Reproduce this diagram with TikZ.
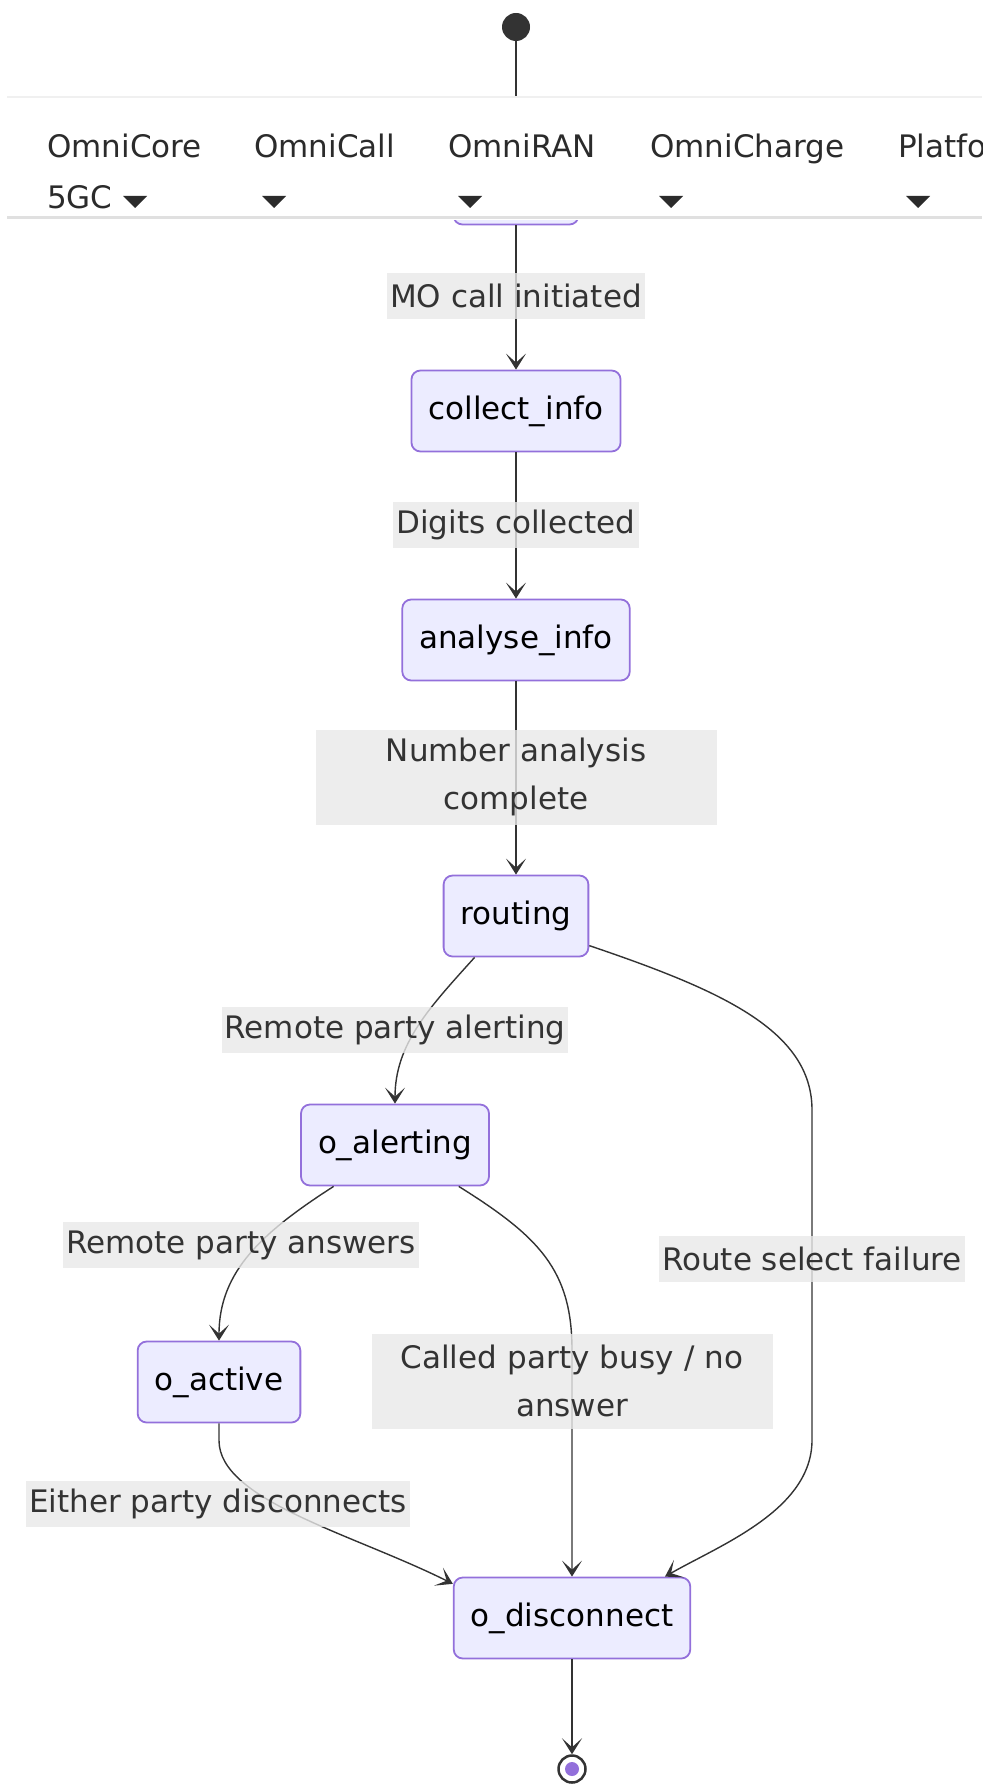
\documentclass[tikz,border=0pt]{standalone}
\usepackage{fontspec}
\setmainfont{DejaVu Sans}
\usetikzlibrary{arrows.meta}
\definecolor{statefill}{HTML}{ECECFF}
\definecolor{stateline}{HTML}{9370DB}
\definecolor{edgeline}{HTML}{333333}
\definecolor{labelfill}{HTML}{E8E8E8}
\definecolor{navtext}{HTML}{2B2B2B}
\tikzset{
  statebox/.style={draw=stateline, fill=statefill, line width=1.8pt, rounded corners=9pt,
    minimum height=81pt, inner xsep=17pt, text=black, font=\fontsize{31}{37}\selectfont},
  trans/.style={draw=edgeline, line width=1.4pt, ->},
  tlabel/.style={fill=labelfill, fill opacity=0.8, text opacity=1, text=edgeline,
    inner xsep=3pt, inner ysep=0pt, minimum height=46pt, font=\fontsize{31}{48}\selectfont},
  tlabeltwo/.style={tlabel, text width=395pt, align=center, minimum height=95pt},
  navitem/.style={anchor=base west, inner sep=0pt, text=navtext, font=\fontsize{31}{37}\selectfont},
}
\begin{document}
\begin{tikzpicture}[x=1pt, y=-1pt, >={Stealth[length=16pt,width=20pt,inset=9pt]}]
\useasboundingbox (0,0) rectangle (987,1784);
\clip (0,0) rectangle (987,1784);
% states
\node[circle, fill=edgeline, minimum size=28pt, inner sep=0pt] (start) at (516,27) {};
\node[statebox, minimum width=125pt] (idle) at (516,184) {};
\foreach \n/\y/\t in {collect/411/collect\_info, analyse/640/analyse\_info, routing/916/routing}
  \node[statebox] (\n) at (516,\y) {\t};
\node[statebox] (alerting) at (395,1145) {o\_alerting};
\node[statebox] (active) at (219,1382) {o\_active};
\node[statebox] (disconnect) at (572,1618) {o\_disconnect};
\node[circle, draw=edgeline, line width=2.5pt, fill=white, minimum size=27pt, inner sep=0pt] (end) at (572,1769) {};
\node[circle, fill=stateline, minimum size=14pt, inner sep=0pt] (endin) at (end) {};
% transitions
\draw[trans] (start) -- (idle);
\draw[trans] (idle) -- (collect);
\draw[trans] (collect) -- (analyse);
\draw[trans] (analyse) -- (routing);
\draw[trans] (routing.-135) .. controls +(-45,50) and +(0,-60) .. (alerting.north);
\draw[trans] (routing.-22) .. controls (720,990) and (812,1030) .. (812,1110)
  -- (812,1440) .. controls (812,1510) and (720,1545) .. (disconnect.24);
\draw[trans] (alerting.-146) .. controls +(-70,45) and +(0,-70) .. (active.north);
\draw[trans] (alerting.-33) .. controls +(80,50) and +(0,-80) .. (572,1350) -- (disconnect.north);
\draw[trans] (active.south) -- +(0,17) .. controls +(0,60) and +(-100,-50) .. (disconnect.164);
\draw[trans] (disconnect) -- (end);
% labels
\node[tlabel] (lmo) at (516,296) {MO call initiated};
\node[tlabel] (ldigits) at (516,525) {Digits collected};
\node[tlabeltwo] (lnumber) at (516,777) {Number analysis\\complete};
\node[tlabel] (lalerting) at (395,1030) {Remote party alerting};
\node[tlabel] (lanswers) at (241,1245) {Remote party answers};
\node[tlabel] (lfailure) at (812,1259) {Route select failure};
\node[tlabeltwo] (lbusy) at (572,1381) {Called party busy / no\\answer};
\node[tlabel] (ldisc) at (218,1504) {Either party disconnects};
% header bar
\begin{scope}
  \clip (7,96) rectangle (982,220);
  \fill[white] (7,96) rectangle (982,220);
  \draw[black!6, line width=1.5pt] (7,97) -- (982,97);
  \draw[black!12, line width=3pt] (7,218) -- (982,218);
  \foreach \x/\t/\n in {47/OmniCore/core, 254/OmniCall/call, 448/OmniRAN/ran, 650/OmniCharge/charge, 898/Platform/platform}
    \node[navitem] (\n) at (\x,158) {\t};
  \node[navitem] (fivegc) at (47,209) {5GC};
  \foreach \x in {135,274,470,671,918}
    \fill[navtext] (\x-12,196) -- (\x+12,196) -- (\x,208) -- cycle;
\end{scope}
\end{tikzpicture}
\end{document}
